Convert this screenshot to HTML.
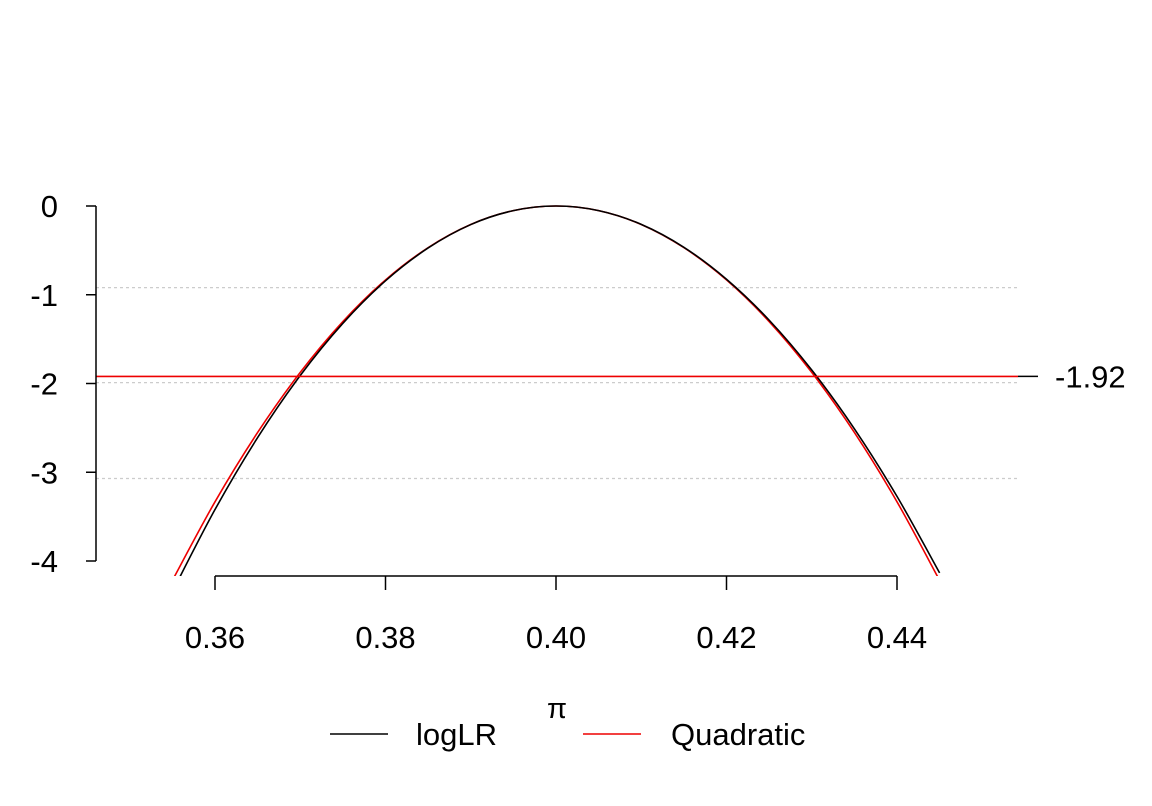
<!DOCTYPE html>
<html><head><meta charset="utf-8"><style>
body{margin:0;background:#fff}
svg{display:block;font-family:"Liberation Sans",Arial,sans-serif}
</style></head><body>
<svg id="chart" width="1152" height="806" viewBox="0 0 1152 806">
<defs><clipPath id="clip"><rect x="60" y="150" width="1000" height="426"/></clipPath></defs>
<g id="grid"></g>
<g id="series" clip-path="url(#clip)"></g>
<g id="axes"></g>
<g>
<line x1="330" y1="734" x2="388" y2="734" stroke="#000" stroke-width="1.5"/>
<text x="416" y="745" font-size="31">logLR</text>
<line x1="583" y1="734" x2="641" y2="734" stroke="#e00" stroke-width="1.5"/>
<text x="671" y="745" font-size="31">Quadratic</text>
</g>
<text x="557" y="718" font-size="29" text-anchor="middle">π</text>
</svg>
<script>
const piValues=[0.355,0.36,0.365,0.37,0.375,0.38,0.385,0.39,0.395,0.40,0.405,0.41,0.415,0.42,0.425,0.43,0.435,0.44,0.445];
const logLRValues=[-4.345,-3.420,-2.609,-1.910,-1.322,-0.843,-0.473,-0.209,-0.052,0,-0.052,-0.207,-0.465,-0.825,-1.286,-1.848,-2.510,-3.272,-4.134];
const quadValues=[-4.219,-3.333,-2.552,-1.875,-1.302,-0.833,-0.469,-0.208,-0.052,0,-0.052,-0.208,-0.469,-0.833,-1.302,-1.875,-2.552,-3.333,-4.219];
const xTicks=[0.36,0.38,0.40,0.42,0.44];
const xTickLabels=["0.36","0.38","0.40","0.42","0.44"];
const yTicks=[0,-1,-2,-3,-4];
const yTickLabels=["0","-1","-2","-3","-4"];
const gridValues=[-0.92,-1.99,-3.07];
const cutoff=[-1.92];
const cutoffLabel=["-1.92"];

const NS="http://www.w3.org/2000/svg";
const xs=v=>215+(v-0.36)*8525;
const ys=v=>206-v*88.75;
function mk(tag,attrs,parent,text){const e=document.createElementNS(NS,tag);for(const k in attrs)e.setAttribute(k,attrs[k]);if(text!==undefined)e.textContent=text;parent.appendChild(e);return e;}
const grid=document.getElementById('grid'),series=document.getElementById('series'),axes=document.getElementById('axes');
gridValues.forEach((g,i)=>{
 const l=mk('line',{x1:96,x2:1018,y1:ys(g),y2:ys(g),stroke:'#ccc','stroke-width':1.3,'stroke-dasharray':'3,3'},grid);
 
 
});
function path(vals){
 const p=piValues.map((v,i)=>[xs(v),ys(vals[i])]);
 let d='M'+p[0][0]+','+p[0][1];
 for(let i=0;i<p.length-1;i++){
  const p0=p[Math.max(0,i-1)],p1=p[i],p2=p[i+1],p3=p[Math.min(p.length-1,i+2)];
  const c1=[p1[0]+(p2[0]-p0[0])/6,p1[1]+(p2[1]-p0[1])/6];
  const c2=[p2[0]-(p3[0]-p1[0])/6,p2[1]-(p3[1]-p1[1])/6];
  d+=` C${c1[0]},${c1[1]} ${c2[0]},${c2[1]} ${p2[0]},${p2[1]}`;
 }
 return d;
}
const q=mk('path',{d:path(quadValues),fill:'none',stroke:'#e00','stroke-width':1.6},series);


const b=mk('path',{d:path(logLRValues),fill:'none',stroke:'#000','stroke-width':1.6},series);


const cl=mk('line',{x1:96,x2:1018,y1:ys(cutoff[0]),y2:ys(cutoff[0]),stroke:'#e00','stroke-width':1.6},axes);


const ct=mk('line',{x1:1018,x2:1038,y1:ys(cutoff[0]),y2:ys(cutoff[0]),stroke:'#000','stroke-width':1.5},axes);


const ctl=mk('text',{x:1055,y:ys(cutoff[0])+11,'font-size':31},axes,cutoffLabel[0]);


const ya=mk('line',{x1:96,x2:96,y1:ys(yTicks[0]),y2:ys(yTicks[yTicks.length-1]),stroke:'#000','stroke-width':1.5},axes);


yTicks.forEach((t,i)=>{
 const tk=mk('line',{x1:86,x2:96,y1:ys(t),y2:ys(t),stroke:'#000','stroke-width':1.5},axes);
 
 
 const lb=mk('text',{x:58,y:ys(t)+11,'font-size':31,'text-anchor':'end'},axes,yTickLabels[i]);
 
 
});
const xa=mk('line',{x1:xs(xTicks[0]),x2:xs(xTicks[xTicks.length-1]),y1:576,y2:576,stroke:'#000','stroke-width':1.5},axes);


xTicks.forEach((t,i)=>{
 const tk=mk('line',{x1:xs(t),x2:xs(t),y1:576,y2:590,stroke:'#000','stroke-width':1.5},axes);
 
 
 const lb=mk('text',{x:xs(t),y:648,'font-size':31,'text-anchor':'middle'},axes,xTickLabels[i]);
 
 
});
</script>
</body></html>
